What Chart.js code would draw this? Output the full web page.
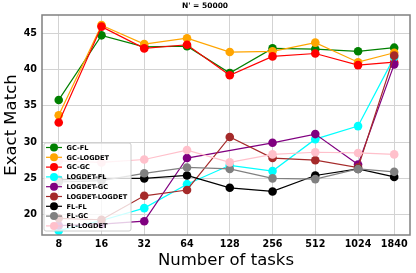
<!DOCTYPE html>
<html>
<head>
<meta charset="utf-8">
<script src="https://cdn.jsdelivr.net/npm/chart.js@4.4.1/dist/chart.umd.min.js"></script>
<style>
  html, body { margin: 0; padding: 0; background: #fff; }
  #wrap { width: 416px; height: 273px; }
</style>
</head>
<body>
<div id="wrap"><canvas id="exactMatchChart" width="416" height="273"></canvas></div>
<script>
const tasks = [8, 16, 32, 64, 128, 256, 512, 1024, 1840];

const gcFl         = [35.8, 44.7, 43.1, 43.2, 39.5, 42.9, 42.8, 42.5, 43.0];
const gcLogdet     = [33.7, 46.1, 43.5, 44.3, 42.4, 42.5, 43.7, 41.0, 42.3];
const gcGc         = [32.7, 45.9, 42.9, 43.4, 39.2, 41.8, 42.2, 40.6, 41.0];
const logdetFl     = [17.8, 19.2, 20.9, 24.2, 26.8, 26.0, 30.4, 32.2, 41.7];
const logdetGc     = [18.5, 18.7, 19.1, 27.8, null, 29.9, 31.1, 26.9, 40.7]; // no point at 128
const logdetLogdet = [19.5, 19.3, 22.6, 23.4, 30.7, 27.8, 27.5, 26.5, 41.9];
const flFl         = [24.8, 25.0, 25.0, 25.4, 23.7, 23.2, 25.4, 26.3, 25.2];
const flGc         = [24.5, 24.7, 25.7, 26.5, 26.3, 25.0, 24.9, 26.3, 25.9];
const flLogdet     = [27.4, 27.2, 27.6, 28.9, 27.2, 28.3, 28.6, 28.5, 28.3];

const yTicks = [20, 25, 30, 35, 40, 45];

const seriesNames  = ['GC-FL', 'GC-LOGDET', 'GC-GC', 'LOGDET-FL', 'LOGDET-GC',
                      'LOGDET-LOGDET', 'FL-FL', 'FL-GC', 'FL-LOGDET'];
const seriesValues = [gcFl, gcLogdet, gcGc, logdetFl, logdetGc,
                      logdetLogdet, flFl, flGc, flLogdet];
const seriesColors = ['#008000', '#ffa500', '#ff0000', '#00ffff', '#800080',
                      '#a52a2a', '#000000', '#808080', '#ffc0cb'];

const datasets = seriesNames.map((name, i) => ({
    label: name,
    data: tasks.map((t, j) => ({ x: t, y: seriesValues[i][j] })),
    borderColor: seriesColors[i],
    backgroundColor: seriesColors[i],
    borderWidth: 1.2,
    pointRadius: 4.3,
    pointBorderWidth: 0,
    pointHoverRadius: 4.3,
    tension: 0,
    fill: false,
    spanGaps: true,
    // matplotlib draws later series on top
    order: seriesNames.length - i
}));

// box around the plot + legend inside the axes
const framePlugin = {
    id: 'frame',
    afterDraw(chart) {
        const { ctx, chartArea: a } = chart;
        ctx.save();
        ctx.strokeStyle = '#808080';
        ctx.lineWidth = 1.5;
        ctx.strokeRect(a.left, a.top, a.right - a.left, a.bottom - a.top);

        // legend
        const lx = 44, ly = 143, lw = 87, lh = 88;
        ctx.globalAlpha = 0.8;
        ctx.fillStyle = '#ffffff';
        ctx.beginPath();
        ctx.roundRect(lx, ly, lw, lh, 2);
        ctx.fill();
        ctx.globalAlpha = 1;
        ctx.strokeStyle = '#cccccc';
        ctx.lineWidth = 1;
        ctx.stroke();

        ctx.font = 'bold 6.6px "DejaVu Sans"';
        ctx.textBaseline = 'middle';
        seriesNames.forEach((name, i) => {
            const y = ly + 4.5 + i * 9.8;
            ctx.strokeStyle = seriesColors[i];
            ctx.lineWidth = 1.2;
            ctx.beginPath();
            ctx.moveTo(46, y);
            ctx.lineTo(62, y);
            ctx.stroke();
            ctx.fillStyle = seriesColors[i];
            ctx.beginPath();
            ctx.arc(54, y, 4, 0, Math.PI * 2);
            ctx.fill();
            ctx.fillStyle = '#000';
            ctx.fillText(name, 66.5, y + 0.5);
        });
        ctx.restore();
    }
};

const ctx = document.getElementById('exactMatchChart').getContext('2d');
new Chart(ctx, {
    type: 'line',
    data: { datasets: datasets },
    options: {
        responsive: false,
        animation: false,
        devicePixelRatio: 1,
        layout: { padding: { left: 0, right: 6, top: 0, bottom: 0 } },
        plugins: {
            legend: { display: false },
            tooltip: { enabled: false },
            title: {
                display: true,
                text: "N' = 50000",
                color: '#000',
                font: { family: 'DejaVu Sans', size: 7.5, weight: 'bold' },
                padding: { top: 2, bottom: 4 }
            }
        },
        scales: {
            x: {
                type: 'logarithmic',
                min: 6.1,
                max: 2377,
                afterBuildTicks: scale => { scale.ticks = tasks.map(v => ({ value: v })); },
                afterFit: scale => { scale.height = 38; },
                ticks: {
                    color: '#000',
                    font: { family: 'DejaVu Sans', size: 9.6, weight: 'bold' },
                    padding: 4,
                    maxRotation: 0,
                    autoSkip: false,
                    callback: v => String(v)
                },
                grid: { color: '#d3d3d3', lineWidth: 1, drawTicks: false },
                border: { display: false },
                title: {
                    display: true,
                    text: 'Number of tasks',
                    color: '#000',
                    font: { family: 'DejaVu Sans', size: 16.5 },
                    padding: { top: 0, bottom: 2 }
                }
            },
            y: {
                min: 17.2,
                max: 47.5,
                afterBuildTicks: scale => { scale.ticks = yTicks.map(v => ({ value: v })); },
                afterFit: scale => { scale.width = 42; },
                ticks: {
                    color: '#000',
                    font: { family: 'DejaVu Sans', size: 9.6, weight: 'bold' },
                    padding: 5
                },
                grid: { color: '#d3d3d3', lineWidth: 1, drawTicks: false },
                border: { display: false },
                title: {
                    display: true,
                    text: 'Exact Match',
                    color: '#000',
                    font: { family: 'DejaVu Sans', size: 16.5 },
                    padding: { top: 2, bottom: 0 }
                }
            }
        }
    },
    plugins: [framePlugin]
});
</script>
</body>
</html>
